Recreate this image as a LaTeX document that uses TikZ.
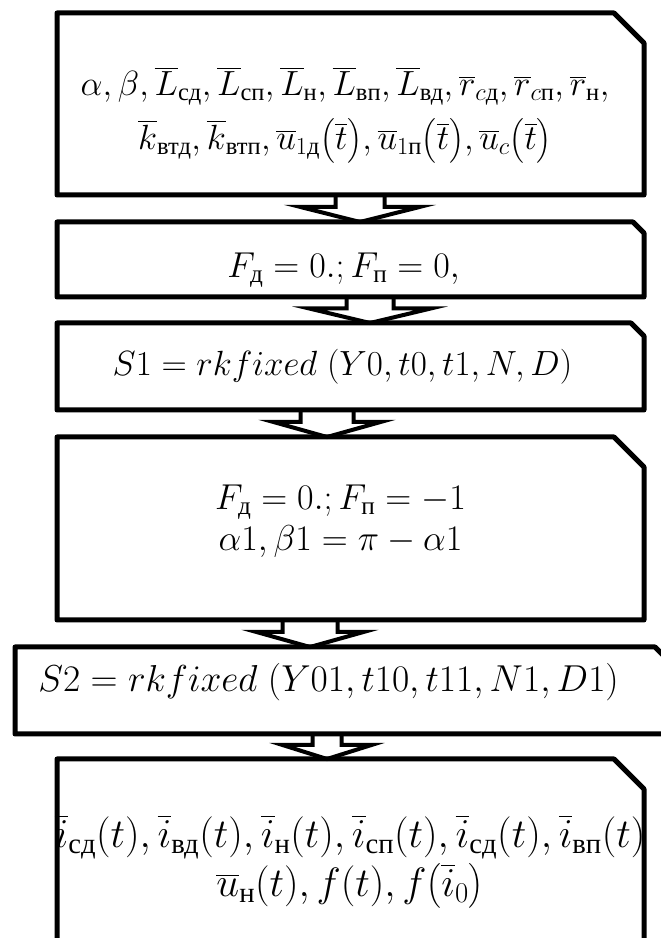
\RequirePackage{fix-cm}
\documentclass[tikz,border=0pt]{standalone}
\usepackage{amsmath}
\usepackage{fontspec}
\newfontfamily\cyr{Liberation Serif}
\usetikzlibrary{calc}

% upright Cyrillic index
\newcommand{\ru}[1]{\text{\cyr #1}}

\tikzset{
  flowbox/.style={rectangle, inner sep=0pt, outer sep=0pt, minimum width=587pt},
  boxline/.style={line width=5pt, line join=round},
  flowtext/.style={inner sep=0pt, align=center, font=\fontsize{36}{44}\selectfont},
  flowarrow/.style={line width=4pt, line join=miter},
}

\begin{document}
\begin{tikzpicture}[x=1pt, y=1pt]
        \clip (0,0) rectangle (661,938);

        % Blocks of the scheme
        \node[flowbox, minimum height=182pt] (input) at (350.5,834) {};
        \node[flowbox, minimum height=75pt] (flags) at (350.5,678.5) {};
        \node[flowbox, minimum height=87pt] (solve) at (350.5,571.5) {};
        \node[flowbox, minimum height=183pt] (newflags) at (350.5,409.5) {};
        \node[flowbox, minimum width=653pt, minimum height=87pt] (resolve) at (341.5,247.5) {};
        \node[flowbox, minimum height=194pt] (output) at (350.5,82) {};

        % Outlines with the cut corner
        \foreach \b/\c in {input/30, flags/11, solve/13, newflags/30, resolve/13, output/30} {
          \draw[boxline] (\b.south west) -- (\b.north west) -- ($(\b.north east)+(-\c,0)$)
            -- ($(\b.north east)+(0,-\c)$) -- (\b.south east) -- cycle;
        }

        % Texts of the blocks
        \node[flowtext, font=\fontsize{35}{44}\selectfont] (inputtext) at (345,823)
          {$\alpha,\beta,\overline{L}_{\ru{сд}},\overline{L}_{\ru{сп}},\overline{L}_{\ru{н}},\overline{L}_{\ru{вп}},\overline{L}_{\ru{вд}},\overline{r}_{c\ru{д}},\overline{r}_{c\ru{п}},\overline{r}_{\ru{н}},$\\[10pt]
           $\overline{k}_{\ru{втд}},\overline{k}_{\ru{втп}},\overline{u}_{1\ru{д}}\bigl(\overline{t}\bigr),\overline{u}_{1\ru{п}}\bigl(\overline{t}\bigr),\overline{u}_{c}\bigl(\overline{t}\bigr)$};
        \node[flowtext] (flagstext) at (343.5,668) {$F_{\ru{д}}=0.;F_{\ru{п}}=0,$};
        \node[flowtext, font=\fontsize{35}{44}\selectfont] (solvetext) at (342.5,571) {$S1=rkfixed\;(Y0,t0,t1,N,D)$};
        \node[flowtext] (newflagstext) at (340.5,417)
          {$F_{\ru{д}}=0.;F_{\ru{п}}=-1$\\[-3pt] $\alpha1,\beta1=\pi-\alpha1$};
        \node[flowtext, font=\fontsize{37.5}{44}\selectfont] (resolvetext) at (328.5,256)
          {$S2=rkfixed\;(Y01,t10,t11,N1,D1)$};
        \node[flowtext, font=\fontsize{41}{47}\selectfont] (outputtext) at (350,75)
          {$\overline{i}_{\ru{сд}}(t),\overline{i}_{\ru{вд}}(t),\overline{i}_{\ru{н}}(t),\overline{i}_{\ru{сп}}(t),\overline{i}_{\ru{сд}}(t),\overline{i}_{\ru{вп}}(t)$\\[2pt]
           $\overline{u}_{\ru{н}}(t),f(t),f\bigl(\overline{i}_0\bigr)$};

        % Hollow arrows between the blocks
        \foreach \from/\to/\x/\s/\h in {input/flags/360/24.5/60, flags/solve/370/23.5/61,
            solve/newflags/327/26.5/54, newflags/resolve/310/27.5/54, resolve/output/327/14.5/44.5} {
          \coordinate (top) at ($(\from.south -| 0,0)+(\x,0)$);
          \coordinate (tip) at ($(\to.north -| 0,0)+(\x,0)$);
          \coordinate (neck) at ($(top)!0.44!(tip)$);
          \draw[flowarrow] ($(top)+(-\s,0)$) -- ($(neck)+(-\s,0)$) -- ($(neck)+(-\h,0)$) -- (tip)
            -- ($(neck)+(\h,0)$) -- ($(neck)+(\s,0)$) -- ($(top)+(\s,0)$);
        }
\end{tikzpicture}
\end{document}
